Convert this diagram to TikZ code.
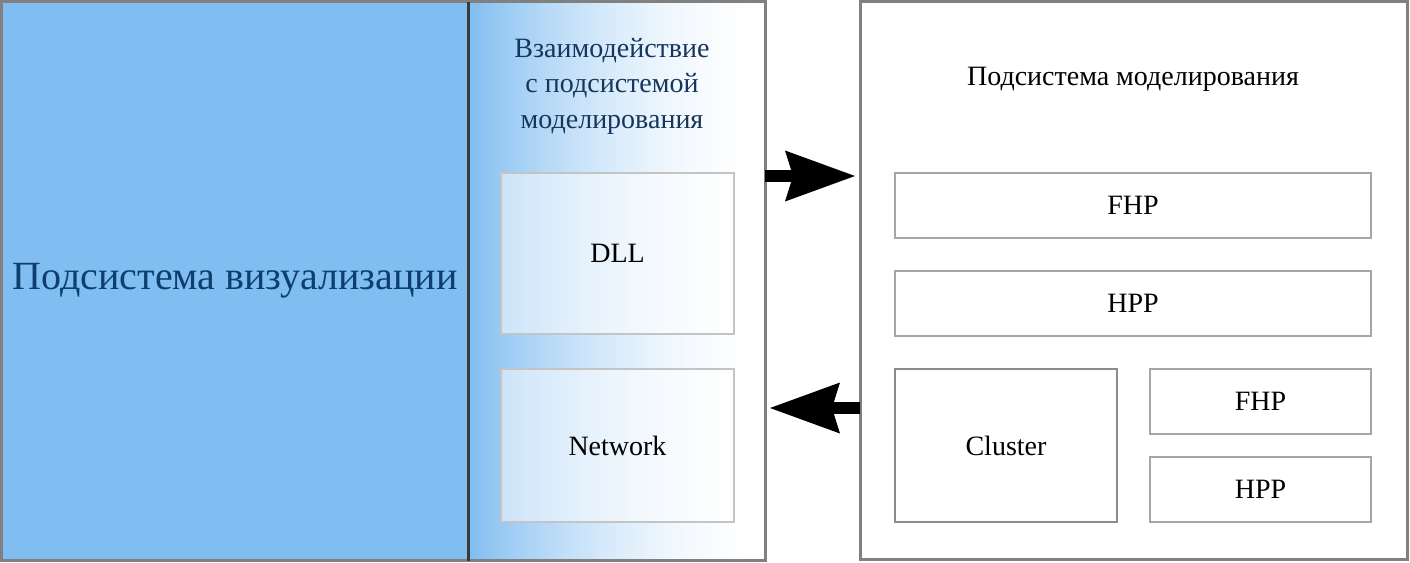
\documentclass[tikz,border=0pt]{standalone}
\usepackage{fontspec}
\setmainfont{Liberation Serif}
\usetikzlibrary{arrows.meta}

\definecolor{visblue}{RGB}{128,189,240}
\definecolor{frame}{RGB}{128,128,128}
\definecolor{divider}{RGB}{58,58,58}
\definecolor{visText}{RGB}{12,62,110}
\definecolor{ifaceText}{RGB}{23,54,93}
\definecolor{boxline}{RGB}{166,166,166}
\definecolor{lightline}{RGB}{196,196,196}
\definecolor{darkline}{RGB}{140,140,140}

\tikzset{
  part/.style={draw=frame, line width=3pt, inner sep=0pt, outer sep=0pt},
  unit/.style={draw=boxline, line width=1.5pt, fill=white, inner sep=0pt},
  label/.style={font=\fontsize{28}{32}\selectfont},
  bigarrow/.style={line width=12pt, -{Stealth[length=70pt, width=51pt, inset=8pt, line width=0pt]}}
}

\begin{document}
\begin{tikzpicture}[x=1pt, y=-1pt]
\useasboundingbox (0,0) rectangle (1410,562);

% Interaction part: blue fading to white
\foreach \i in {0,...,98} {
  \pgfmathsetmacro{\share}{100*(1-(\i+0.5)/99)^1.8}
  \fill[visblue!\share!white] (468+3*\i,1.5) rectangle (472+3*\i,560.5);
}
\node[part, minimum width=297pt, minimum height=559pt] (iface) at (616.5,281) {};

% Visualisation subsystem
\node[part, fill=visblue, minimum width=466.5pt, minimum height=559pt,
      text=visText, font=\fontsize{40}{44}\selectfont] (vis) at (235,281) {Подсистема визуализации};
\draw[divider, line width=3.5pt] (vis.north east) -- (vis.south east);

\node[text=ifaceText, align=center, font=\fontsize{28}{35.5}\selectfont] (ifacetitle) at (612,86)
  {Взаимодействие\\с подсистемой\\моделирования};
\node[unit, label, draw=lightline, fill=white, fill opacity=0.5, text opacity=1,
      minimum width=233pt, minimum height=161pt] (dll) at (617.5,253.5) {DLL};
\node[unit, label, draw=lightline, fill=white, fill opacity=0.5, text opacity=1,
      minimum width=233pt, minimum height=153pt] (net) at (617.5,445.5) {Network};

% Modelling subsystem
\node[part, fill=white, minimum width=547.5pt, minimum height=557.5pt] (model) at (1133.75,280.25) {};
\node[label] (modeltitle) at (1133,79) {Подсистема моделирования};
\node[unit, label, minimum width=476pt, minimum height=65pt] (fhp) at (1133,205.5) {FHP};
\node[unit, label, minimum width=476pt, minimum height=65pt] (hpp) at (1133,303.5) {HPP};
\node[unit, label, draw=darkline, minimum width=222pt, minimum height=153pt] (cluster) at (1006,445.5) {Cluster};
\node[unit, label, minimum width=221pt, minimum height=65pt] (fhpb) at (1260.5,401.5) {FHP};
\node[unit, label, minimum width=221pt, minimum height=65pt] (hppb) at (1260.5,489.5) {HPP};

% Data exchange
\coordinate (toModel) at (855,176);
\coordinate (toIface) at (770,408);
\draw[bigarrow] (iface.east |- toModel) -- (toModel);
\draw[bigarrow] (model.west |- toIface) -- (toIface);

\end{tikzpicture}
\end{document}
